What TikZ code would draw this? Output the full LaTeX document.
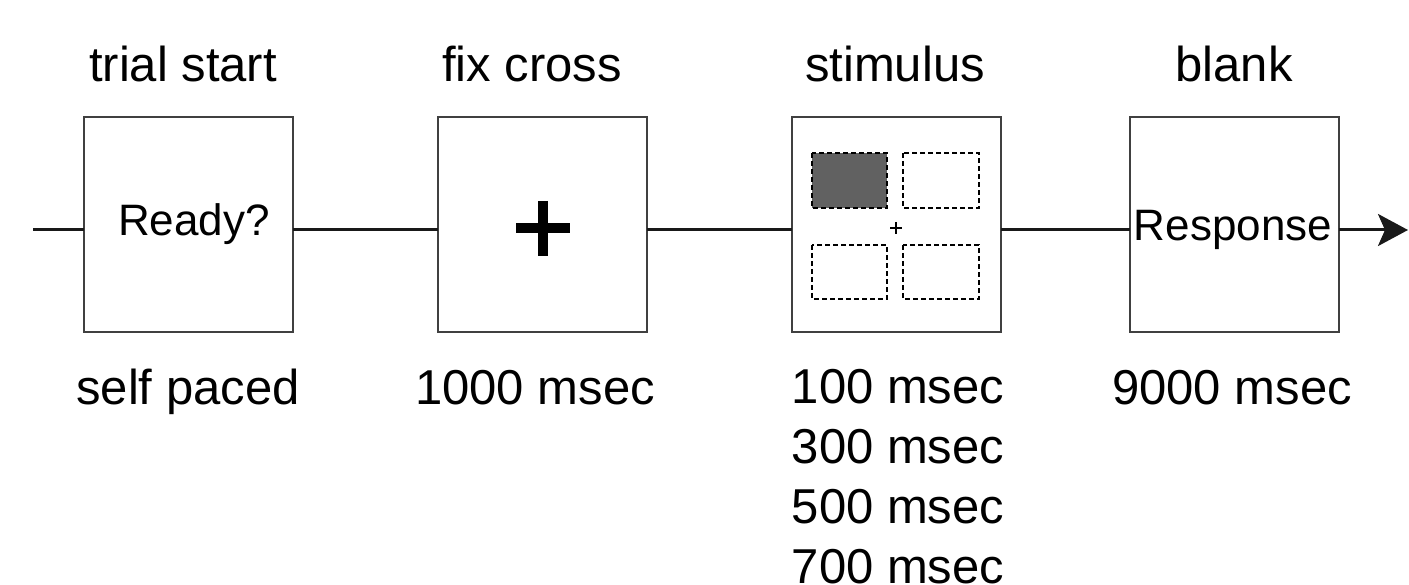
\documentclass[tikz,border=0pt]{standalone}
\usepackage{fontspec}
\setmainfont{Liberation Sans}
\usetikzlibrary{arrows.meta}
\tikzset{
  frame/.style={draw=black!75, line width=2pt, fill=white, minimum width=209pt, minimum height=215pt, inner sep=0pt, outer sep=0pt},
  lab/.style={font=\fontsize{49}{58}\selectfont, anchor=base, inner sep=0pt},
  boxtext/.style={font=\fontsize{44}{52}\selectfont, anchor=base, inner sep=0pt},
  conn/.style={draw=black!90, line width=3pt},
  slot/.style={draw=black, line width=2.6pt, dash pattern=on 5pt off 3pt},
}
\begin{document}
\begin{tikzpicture}[x=1pt,y=-1pt]
\useasboundingbox (0,0) rectangle (1409,585);
% boxes
\node[frame] (b1) at (188.5,224.5) {};
\node[frame] (b2) at (542.5,224.5) {};
\node[frame] (b3) at (896,224.5) {};
\node[frame] (b4) at (1234,224.5) {};
% top labels
\node[lab] (t1) at (183,82) {trial start};
\node[lab] (t2) at (532,82) {fix cross};
\node[lab] (t3) at (895,82) {stimulus};
\node[lab] (t4) at (1234,82) {blank};
% bottom labels
\node[lab] (d1) at (188,405) {self paced};
\node[lab] (d2) at (535,405) {1000 msec};
\node[lab] (d3a) at (898,403) {100 msec};
\node[lab] (d3b) at (898,463) {300 msec};
\node[lab] (d3c) at (898,523) {500 msec};
\node[lab] (d3d) at (898,583) {700 msec};
\node[lab] (d4) at (1232,405) {9000 msec};
% box contents
\node[boxtext] (ready) at (194,236) {Ready?};
\node[boxtext] (resp) at (1233,241) {Response};
\draw[line width=10pt] (516,228) -- (570,228) (543,201) -- (543,256);
\draw[slot, fill=black!62] (812,153) rectangle (887,208);
\draw[slot] (903,153) rectangle (979,208);
\draw[slot] (812,245) rectangle (887,299);
\draw[slot] (903,245) rectangle (979,299);
\draw[line width=1.5pt] (890,228) -- (902,228) (896,222) -- (896,234);
% connectors
\coordinate (start) at (33,230);
\coordinate (finish) at (1408,230);
\draw[conn] (start) -- (b1.west |- start);
\draw[conn] (b1.east |- start) -- (b2.west |- start);
\draw[conn] (b2.east |- start) -- (b3.west |- start);
\draw[conn] (b3.east |- start) -- (b4.west |- start);
\draw[conn, -{Stealth[length=30pt,width=32pt,inset=7pt]}] (b4.east |- start) -- (finish);
\end{tikzpicture}
\end{document}
